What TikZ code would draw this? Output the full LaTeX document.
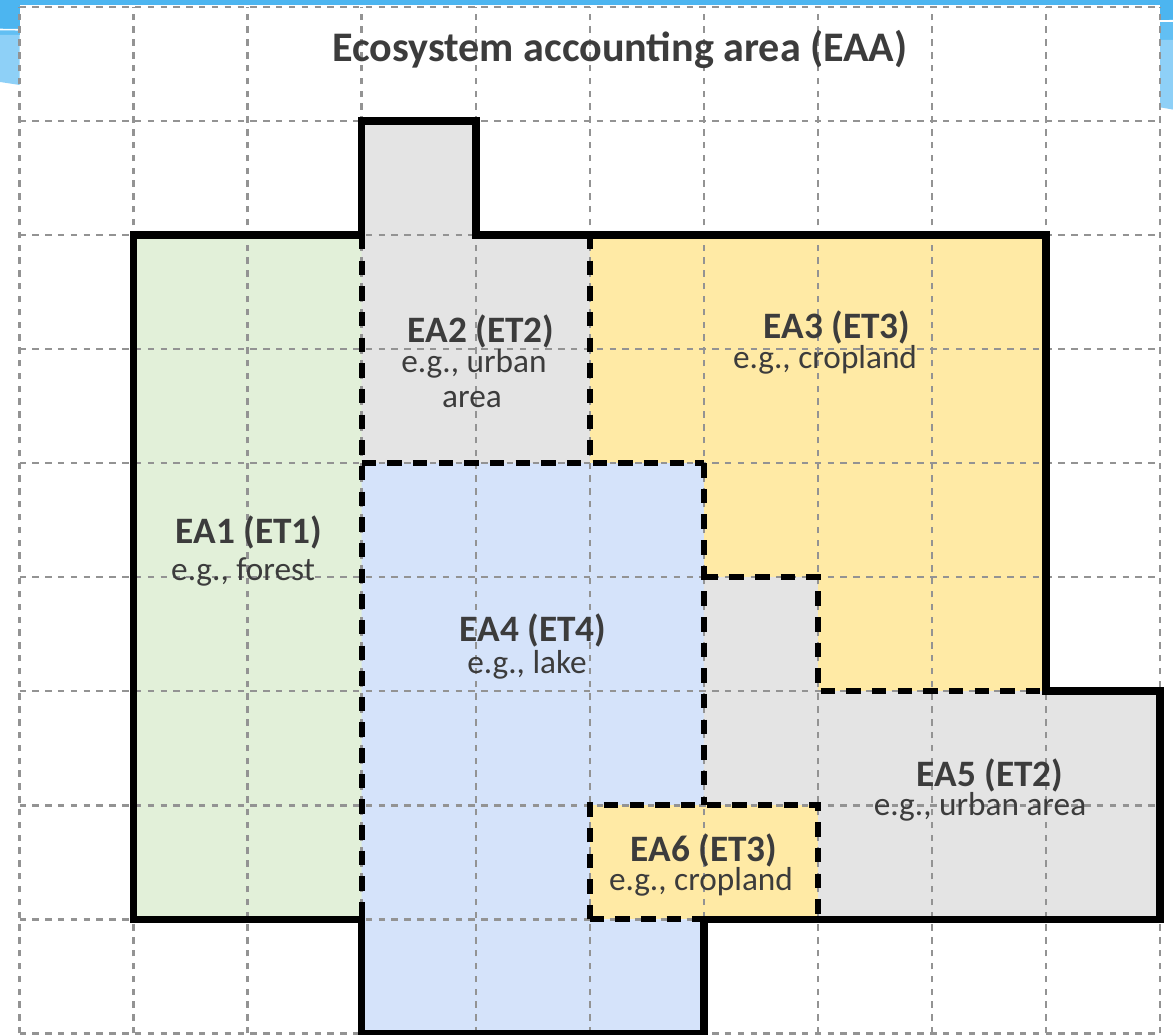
\documentclass[tikz,border=0pt]{standalone}
\usepackage{fontspec}
\setmainfont{Carlito}
\definecolor{gridgray}{HTML}{939393}
\definecolor{labelgray}{HTML}{3C3C3C}
\definecolor{forestfill}{HTML}{E2F0D9}
\definecolor{urbanfill}{HTML}{E4E4E4}
\definecolor{cropfill}{HTML}{FFEAA5}
\definecolor{lakefill}{HTML}{D5E3FA}
\definecolor{skyband}{HTML}{4CB5F0}
\definecolor{skymid}{HTML}{62BFF3}
\definecolor{skylight}{HTML}{8ED0F7}
\begin{document}
\begin{tikzpicture}[x=1cm,y=1cm,
  gridline/.style={draw=gridgray, line width=0.6pt, dash pattern=on 1.6pt off 1.6pt},
  border/.style={line width=1.9pt, line join=miter},
  divider/.style={line width=1.5pt, dash pattern=on 3.6pt off 2.8pt},
  head/.style={font=\fontsize{9.3}{11}\selectfont\bfseries, text=labelgray, inner sep=0pt, anchor=base},
  note/.style={font=\fontsize{8.3}{10}\selectfont, text=labelgray, inner sep=0pt, anchor=base},
  title/.style={font=\fontsize{10.5}{12}\selectfont\bfseries, text=labelgray, inner sep=0pt, anchor=base},
]
% canvas and its margins
\useasboundingbox (-0.171,-0.009) rectangle (10.114,9.061);
\fill[white] (-0.171,-0.009) rectangle (10.114,9.061);

% sky-blue slide trim along the top edge
\fill[skyband] (-0.171,9.018) rectangle (10.114,9.061);
\fill[skyband] (-0.171,8.807) rectangle (0,9.061);
\fill[skymid] (-0.171,8.754) rectangle (0,8.798);
\fill[skylight] (-0.171,8.754) -- (0,8.754) -- (0,8.316) -- (-0.171,8.342) -- cycle;
\draw[white, line width=0.4pt] (-0.171,8.802) -- (0,8.800);
\fill[skyband] (10,8.886) rectangle (10.114,9.061);
\fill[skymid] (10,8.711) rectangle (10.114,8.868);
\fill[skylight] (10,8.711) -- (10.114,8.711) -- (10.114,8.10) -- (10,8.12) -- cycle;
\draw[white, line width=0.4pt] (10,8.877) -- (10.114,8.879);

% ecosystem assets
\fill[forestfill] (1,1) rectangle (3,7);
\fill[urbanfill] (3,5) -- (3,8) -- (4,8) -- (4,7) -- (5,7) -- (5,5) -- cycle;
\fill[cropfill] (5,7) -- (9,7) -- (9,3) -- (7,3) -- (7,4) -- (6,4) -- (6,5) -- (5,5) -- cycle;
\fill[lakefill] (3,5) -- (6,5) -- (6,2) -- (5,2) -- (5,1) -- (6,1) -- (6,0) -- (3,0) -- cycle;
\fill[urbanfill] (6,4) -- (7,4) -- (7,3) -- (10,3) -- (10,1) -- (7,1) -- (7,2) -- (6,2) -- cycle;
\fill[cropfill] (5,1) rectangle (7,2);

% reference grid
\draw[gridline] (0,0) grid (10,9);

% boundaries between assets
\draw[divider] (3,7) -- (3,1);
\draw[divider] (5,7) -- (5,5);
\draw[divider] (3,5) -- (6,5);
\draw[divider] (6,5) -- (6,2);
\draw[divider] (6,4) -- (7,4) -- (7,3) -- (9,3);
\draw[divider] (5,1) -- (5,2) -- (7,2) -- (7,1);
\draw[divider] (5,1) -- (6,1);

% outer boundary of the accounting area
\draw[border] (1,7) -- (3,7) -- (3,8) -- (4,8) -- (4,7) -- (9,7) -- (9,3) -- (10,3)
  -- (10,1) -- (6,1) -- (6,0) -- (3,0) -- (3,1) -- (1,1) -- cycle;

% labels
\node[title] (eaa) at (5.265,8.518) {Ecosystem accounting area (EAA)};
\node[head] (ea1) at (2.012,4.298) {EA1 (ET1)};
\node[note] (ea1n) at (1.960,3.974) {e.g., forest};
\node[head] (ea2) at (4.046,6.061) {EA2 (ET2)};
\node[note] (ea2n) at (3.985,5.798) {e.g., urban};
\node[note] (ea2m) at (3.967,5.491) {area};
\node[head] (ea3) at (7.168,6.096) {EA3 (ET3)};
\node[note] (ea3n) at (7.063,5.833) {e.g., cropland};
\node[head] (ea4) at (4.502,3.439) {EA4 (ET4)};
\node[note] (ea4n) at (4.450,3.158) {e.g., lake};
\node[head] (ea5) at (8.510,2.167) {EA5 (ET2)};
\node[note] (ea5n) at (8.422,1.912) {e.g., urban area};
\node[head] (ea6) at (6.002,1.509) {EA6 (ET3)};
\node[note] (ea6n) at (5.975,1.254) {e.g., cropland};
\end{tikzpicture}
\end{document}
